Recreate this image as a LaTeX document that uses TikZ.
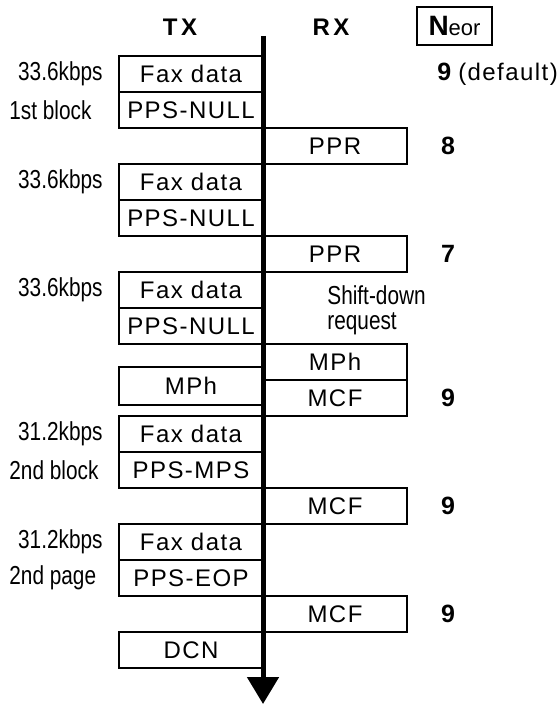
\documentclass[tikz,border=0pt]{standalone}
\usepackage{fontspec}
\setmainfont{Liberation Sans}
\newfontfamily\boxfont[LetterSpace=6]{Liberation Sans}
\newfontfamily\headfont[LetterSpace=15]{Liberation Sans}
\newfontfamily\narrowfont[FakeStretch=0.8]{Liberation Sans}
\usetikzlibrary{positioning,arrows.meta}

\tikzset{
    txbox/.style={draw, line width=1pt, outer sep=0pt, minimum width=72pt, minimum height=18pt, inner sep=0pt, font=\boxfont\fontsize{12}{14}\selectfont},
    rxbox/.style={txbox},
    side/.style={inner sep=0pt, font=\narrowfont\fontsize{13}{14}\selectfont},
    count/.style={inner sep=0pt, font=\bfseries\fontsize{12.5}{14}\selectfont},
    head/.style={inner sep=0pt, font=\headfont\bfseries\fontsize{12}{14}\selectfont},
    timeline/.style={line width=2.5pt, -{Triangle[width=15.5pt,length=13.5pt]}}
}

\begin{document}
\begin{tikzpicture}[x=0.5pt, y=-0.5pt]
\useasboundingbox (0,0) rectangle (559,704);

% ===== Time line =====
\coordinate (top) at (263,36);
\coordinate (bot) at (263,704);
\draw[timeline] (top) -- (bot);

% ===== Headings =====
\node[head] (tx) at (180,27) {TX};
\node[head] (rx) at (331,27) {RX};
\node[draw, line width=1pt, minimum width=37.5pt, minimum height=19pt, inner sep=0pt] (neor) at (454.5,26)
    {\bfseries\fontsize{14}{16}\selectfont N\mdseries\fontsize{11}{13}\selectfont eor};

% ===== 1st block, 33.6kbps =====
\node[txbox] (fax1) at (191,74) {Fax data};
\node[txbox, below=0pt of fax1] (pps1) {PPS-NULL};
\node[side, anchor=east] (rate1) at (103,74) {33.6kbps};
\node[side, anchor=west] (blk1) at (9,110) {1st block};
\node[count, anchor=west] (eor1) at (437,74) {9 \boxfont\mdseries\fontsize{12}{14}\selectfont(default)};
\node[rxbox] (ppr1) at (335,146) {PPR};
\node[count] (eor2) at (448,146) {8};

\node[txbox] (fax2) at (191,182) {Fax data};
\node[txbox, below=0pt of fax2] (pps2) {PPS-NULL};
\node[side, anchor=east] (rate2) at (103,182) {33.6kbps};
\node[rxbox] (ppr2) at (335,254) {PPR};
\node[count] (eor3) at (448,254) {7};

\node[txbox] (fax3) at (191,290) {Fax data};
\node[txbox, below=0pt of fax3] (pps3) {PPS-NULL};
\node[side, anchor=east] (rate3) at (103,290) {33.6kbps};
\node[side, anchor=west, align=left, font=\narrowfont\fontsize{13}{12.5}\selectfont] (shift) at (327,310) {Shift-down\\request};

% ===== Rate change =====
\node[rxbox] (mphrx) at (335,362) {MPh};
\node[rxbox, below=0pt of mphrx] (mcf1) {MCF};
\node[txbox, minimum height=19pt] (mphtx) at (191,386) {MPh};
\node[count] (eor4) at (448,398) {9};

% ===== 2nd block, 31.2kbps =====
\node[txbox] (fax4) at (191,434) {Fax data};
\node[txbox, below=0pt of fax4] (pps4) {PPS-MPS};
\node[side, anchor=east] (rate4) at (103,434) {31.2kbps};
\node[side, anchor=west] (blk2) at (9,470) {2nd block};
\node[rxbox] (mcf2) at (335,506) {MCF};
\node[count] (eor5) at (448,506) {9};

% ===== 2nd page =====
\node[txbox] (fax5) at (191,542) {Fax data};
\node[txbox, below=0pt of fax5] (pps5) {PPS-EOP};
\node[side, anchor=east] (rate5) at (103,542) {31.2kbps};
\node[side, anchor=west] (blk3) at (9,578) {2nd page};
\node[rxbox] (mcf3) at (335,614) {MCF};
\node[count] (eor6) at (448,614) {9};

\node[txbox] (dcn) at (191,650) {DCN};

\end{tikzpicture}
\end{document}
